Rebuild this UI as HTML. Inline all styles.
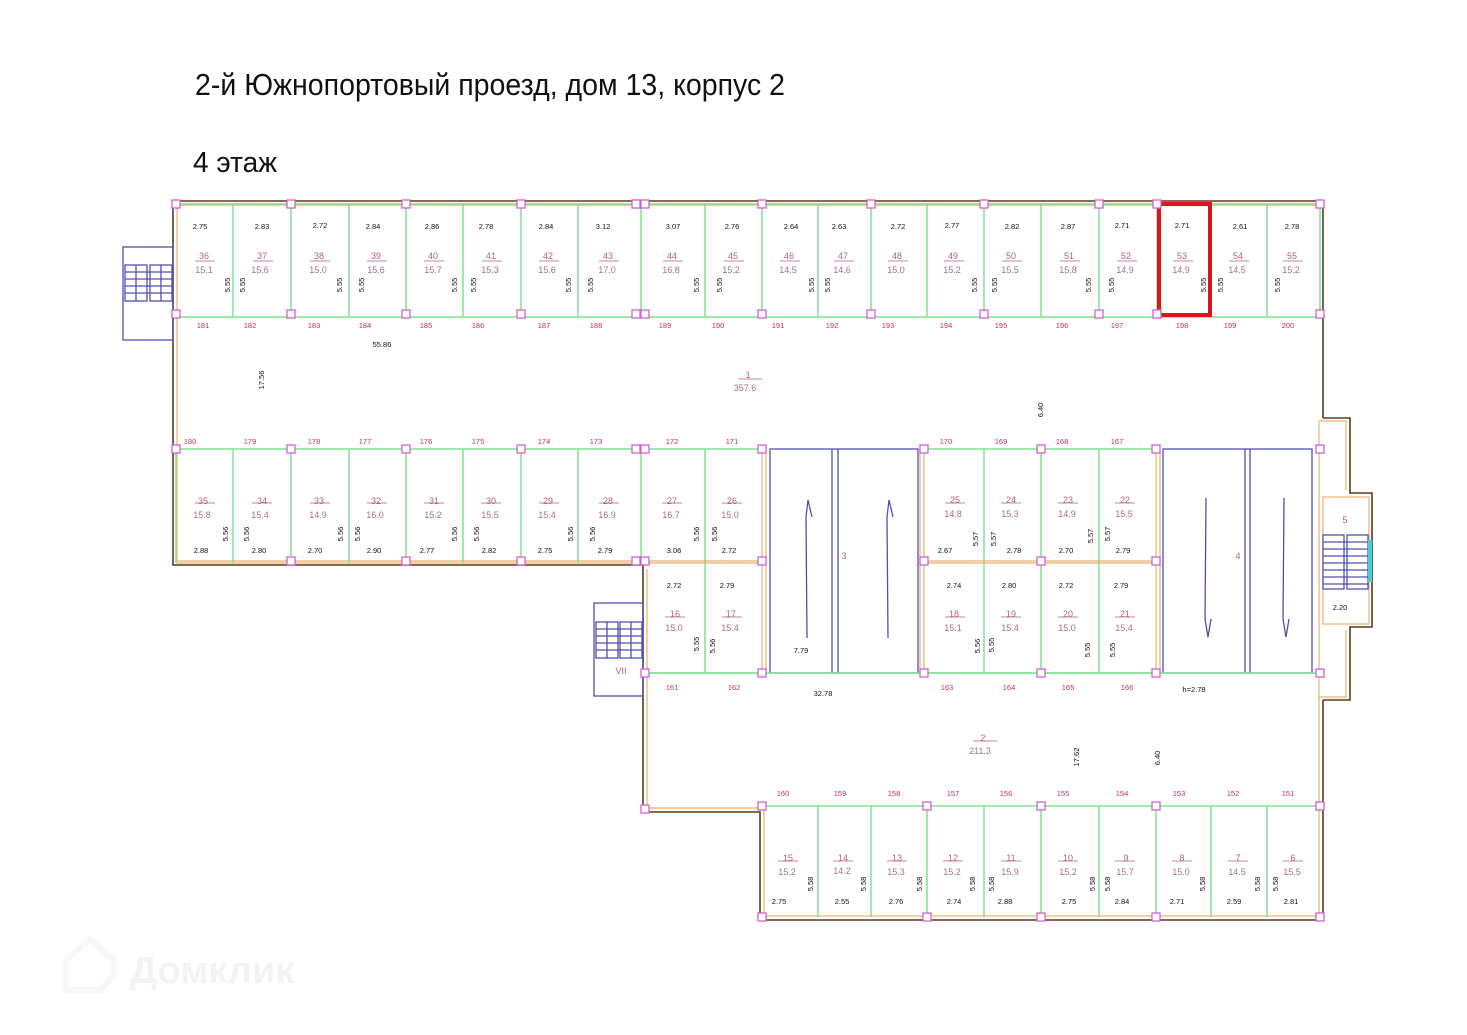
<!DOCTYPE html>
<html><head><meta charset="utf-8"><style>
html,body{margin:0;padding:0;background:#fff;}
svg{display:block;font-family:"Liberation Sans",sans-serif;}
.d{font-size:7.5px;fill:#111;text-anchor:middle;}
.n{font-size:9px;fill:#b06080;text-anchor:middle;}
.a{font-size:9px;fill:#a07090;text-anchor:middle;}
.c{font-size:7.5px;fill:#c03060;text-anchor:middle;}
.v{font-size:7.5px;fill:#111;text-anchor:middle;}
.g{stroke:#80e090;stroke-width:1.5;fill:none;}
.o{stroke:#e8b070;stroke-width:1.2;fill:none;}
.w{stroke:#5a3a20;stroke-width:1.6;fill:none;}
.b{stroke:#5050b0;stroke-width:1.3;fill:none;}
.p{stroke:#d060d0;stroke-width:1.3;fill:#fff;}
.u{stroke:#b06080;stroke-width:.8;}
</style></head><body>
<svg width="1467" height="1035" viewBox="0 0 1467 1035" xmlns="http://www.w3.org/2000/svg">
<text x="195" y="95" font-size="31" fill="#111" textLength="590" lengthAdjust="spacingAndGlyphs">2-й Южнопортовый проезд, дом 13, корпус 2</text>
<text x="193" y="172" font-size="29" fill="#111" textLength="84" lengthAdjust="spacingAndGlyphs">4 этаж</text>

<!-- watermark -->
<g opacity="0.6" fill="none" stroke="#f2f2f2" stroke-width="6">
<path d="M66 990 L66 960 L90 940 L114 960 L114 975 L100 990 Z"/>
</g>
<text x="130" y="983" font-size="38" font-weight="bold" fill="#f3f3f3">Домклик</text>

<!-- outer walls -->
<path class="w" d="M173 201 L1323 201 L1323 418"/>
<path class="w" d="M173 201 L173 565 L643 565 L643 812 L760 812 L760 920 L1323 920 L1323 700"/>
<path class="o" d="M177 205 L1319 205 M177 205 L177 561 L640 561"/>
<path class="o" d="M647 569 L647 808 L764 808 L764 916 L1319 916 L1319 700"/>
<!-- right protrusion & stair -->
<path class="w" d="M1323 418 L1350 418 L1350 493 L1372 493 L1372 627 L1350 627 L1350 700 L1323 700"/>
<path class="o" d="M1319 421 L1346 421 L1346 490 M1319 421 L1319 700 M1346 630 L1346 697 L1319 697"/>
<rect x="1323" y="497" width="46" height="127" class="o"/>
<rect x="1323" y="535" width="21" height="54" class="b"/>
<rect x="1347" y="535" width="21" height="54" class="b"/>
<rect x="1368" y="540" width="4" height="42" fill="#40d0d0"/>
<g class="b" stroke-width=".7">
<path d="M1323 542h45M1323 549h45M1323 556h45M1323 563h45M1323 570h45M1323 577h45M1323 584h45"/>
</g>
<text x="1345" y="523" class="n">5</text>
<text x="1340" y="610" class="d">2.20</text>

<!-- left stair -->
<rect x="123" y="247" width="50" height="93" class="b"/>
<rect x="125" y="265" width="22" height="36" class="b"/>
<rect x="150" y="265" width="22" height="36" class="b"/>
<g class="b" stroke-width=".7"><path d="M125 272h47M125 279h47M125 286h47M125 293h47M136 265v36M161 265v36"/></g>
<!-- stair VII -->
<rect x="594" y="603" width="49" height="93" class="b"/>
<rect x="596" y="622" width="22" height="36" class="b"/>
<rect x="620" y="622" width="22" height="36" class="b"/>
<g class="b" stroke-width=".7"><path d="M596 629h46M596 636h46M596 643h46M596 650h46M607 622v36M631 622v36"/></g>
<text x="621" y="674" class="n">VII</text>

<!-- top row rooms -->
<path class="g" d="M176 317 L1320 317 M176 204 L1320 204"/>
<path class="g" d="M233 204V317M291 204V317M349 204V317M406 204V317M463 204V317M521 204V317M578 204V317M641 204V317M705 204V317M762 204V317M818 204V317M871 204V317M927 204V317M984 204V317M1041 204V317M1099 204V317M1157 204V317M1211 204V317M1267 204V317M1320 204V317"/>
<!-- middle rows -->
<path class="g" d="M176 449 L762 449 M920 449 L1156 449 M643 673 L762 673 M920 673 L1156 673 M643 812 L643 812"/>
<path class="g" d="M233 449V563M291 449V563M349 449V563M406 449V563M463 449V563M521 449V563M578 449V563M641 449V563M705 449V673M984 449V673M1041 449V673M1099 449V673"/>
<path class="o" d="M176 563 L762 563 M643 561 L762 561 M920 563 L1156 563 M920 561 L1156 561"/>
<path class="o" d="M762 449V673M766 449V673M920 449V673M924 449V673M1156 449V673M1160 449V673"/>
<!-- elevators -->
<rect x="770" y="449" width="148" height="224" class="b"/>
<path class="b" d="M832 449V673M838 449V673"/>
<rect x="1163" y="449" width="149" height="224" class="b"/>
<path class="b" d="M1245 449V673M1250 449V673"/>
<path class="b" d="M807 638 L806 517 L808 500 L812 517"/>
<path class="b" d="M888 638 L887 517 L889 500 L893 517"/>
<path class="b" d="M1206 498 L1205 619 L1208 637 L1211 619"/>
<path class="b" d="M1284 498 L1283 619 L1286 637 L1289 619"/>
<text x="844" y="559" class="n">3</text>
<text x="1238" y="559" class="n">4</text>
<text x="801" y="653" class="d">7.79</text>
<text x="1194" y="692" class="d" fill="#303090">h=2.78</text>
<!-- bottom row -->
<path class="g" d="M762 806 L1320 806 M818 806V917M871 806V917M927 806V917M984 806V917M1041 806V917M1099 806V917M1156 806V917M1211 806V917M1267 806V917"/>
<path class="g" d="M643 673 L1320 673"/>
<path class="g" d="M176 449 L176 563"/>

<!-- highlighted -->
<rect x="1159" y="204" width="51" height="111" fill="none" stroke="#e0141e" stroke-width="4"/>

<!-- pink columns -->
<g class="p">
<rect x="172" y="200" width="8" height="8"/><rect x="287" y="200" width="8" height="8"/><rect x="402" y="200" width="8" height="8"/><rect x="517" y="200" width="8" height="8"/><rect x="632" y="200" width="8" height="8"/><rect x="641" y="200" width="8" height="8"/><rect x="758" y="200" width="8" height="8"/><rect x="867" y="200" width="8" height="8"/><rect x="980" y="200" width="8" height="8"/><rect x="1095" y="200" width="8" height="8"/><rect x="1153" y="200" width="8" height="8"/><rect x="1316" y="200" width="8" height="8"/>
<rect x="172" y="310" width="8" height="8"/><rect x="287" y="310" width="8" height="8"/><rect x="402" y="310" width="8" height="8"/><rect x="517" y="310" width="8" height="8"/><rect x="632" y="310" width="8" height="8"/><rect x="641" y="310" width="8" height="8"/><rect x="758" y="310" width="8" height="8"/><rect x="867" y="310" width="8" height="8"/><rect x="980" y="310" width="8" height="8"/><rect x="1095" y="310" width="8" height="8"/><rect x="1153" y="310" width="8" height="8"/><rect x="1316" y="310" width="8" height="8"/>
<rect x="172" y="445" width="8" height="8"/><rect x="287" y="445" width="8" height="8"/><rect x="402" y="445" width="8" height="8"/><rect x="517" y="445" width="8" height="8"/><rect x="632" y="445" width="8" height="8"/><rect x="641" y="445" width="8" height="8"/><rect x="758" y="445" width="8" height="8"/><rect x="920" y="445" width="8" height="8"/><rect x="1037" y="445" width="8" height="8"/><rect x="1152" y="445" width="8" height="8"/><rect x="1316" y="445" width="8" height="8"/>
<rect x="287" y="557" width="8" height="8"/><rect x="402" y="557" width="8" height="8"/><rect x="517" y="557" width="8" height="8"/><rect x="632" y="557" width="8" height="8"/><rect x="641" y="557" width="8" height="8"/><rect x="758" y="557" width="8" height="8"/><rect x="920" y="557" width="8" height="8"/><rect x="1037" y="557" width="8" height="8"/><rect x="1152" y="557" width="8" height="8"/>
<rect x="641" y="669" width="8" height="8"/><rect x="758" y="669" width="8" height="8"/><rect x="920" y="669" width="8" height="8"/><rect x="1037" y="669" width="8" height="8"/><rect x="1152" y="669" width="8" height="8"/><rect x="1316" y="669" width="8" height="8"/>
<rect x="641" y="805" width="8" height="8"/><rect x="758" y="802" width="8" height="8"/><rect x="923" y="802" width="8" height="8"/><rect x="1037" y="802" width="8" height="8"/><rect x="1152" y="802" width="8" height="8"/><rect x="1316" y="802" width="8" height="8"/>
<rect x="758" y="913" width="8" height="8"/><rect x="923" y="913" width="8" height="8"/><rect x="1037" y="913" width="8" height="8"/><rect x="1152" y="913" width="8" height="8"/><rect x="1316" y="913" width="8" height="8"/>
</g>

<!-- top room labels -->
<g>
<text x="200" y="229" class="d">2.75</text><text x="262" y="229" class="d">2.83</text><text x="320" y="228" class="d">2.72</text><text x="373" y="229" class="d">2.84</text><text x="432" y="229" class="d">2.86</text><text x="486" y="229" class="d">2.78</text><text x="546" y="229" class="d">2.84</text><text x="603" y="229" class="d">3.12</text><text x="673" y="229" class="d">3.07</text><text x="732" y="229" class="d">2.76</text><text x="791" y="229" class="d">2.64</text><text x="839" y="229" class="d">2.63</text><text x="898" y="229" class="d">2.72</text><text x="952" y="228" class="d">2.77</text><text x="1012" y="229" class="d">2.82</text><text x="1068" y="229" class="d">2.87</text><text x="1122" y="228" class="d">2.71</text><text x="1182" y="228" class="d">2.71</text><text x="1240" y="229" class="d">2.61</text><text x="1292" y="229" class="d">2.78</text>
</g>
<g>
<text x="204" y="259" class="n">36</text><text x="262" y="259" class="n">37</text><text x="319" y="259" class="n">38</text><text x="376" y="259" class="n">39</text><text x="433" y="259" class="n">40</text><text x="491" y="259" class="n">41</text><text x="548" y="259" class="n">42</text><text x="608" y="259" class="n">43</text><text x="672" y="259" class="n">44</text><text x="733" y="259" class="n">45</text><text x="789" y="259" class="n">46</text><text x="843" y="259" class="n">47</text><text x="897" y="259" class="n">48</text><text x="953" y="259" class="n">49</text><text x="1011" y="259" class="n">50</text><text x="1069" y="259" class="n">51</text><text x="1126" y="259" class="n">52</text><text x="1182" y="259" class="n">53</text><text x="1238" y="259" class="n">54</text><text x="1292" y="259" class="n">55</text>
<text x="204" y="273" class="a">15.1</text><text x="260" y="273" class="a">15.6</text><text x="318" y="273" class="a">15.0</text><text x="376" y="273" class="a">15.6</text><text x="433" y="273" class="a">15.7</text><text x="490" y="273" class="a">15.3</text><text x="547" y="273" class="a">15.6</text><text x="607" y="273" class="a">17.0</text><text x="671" y="273" class="a">16.8</text><text x="731" y="273" class="a">15.2</text><text x="788" y="273" class="a">14.5</text><text x="842" y="273" class="a">14.6</text><text x="896" y="273" class="a">15.0</text><text x="952" y="273" class="a">15.2</text><text x="1010" y="273" class="a">15.5</text><text x="1068" y="273" class="a">15.8</text><text x="1125" y="273" class="a">14.9</text><text x="1181" y="273" class="a">14.9</text><text x="1237" y="273" class="a">14.5</text><text x="1291" y="273" class="a">15.2</text>
</g>
<g class="u"><path d="M195 261h20M253 261h20M310 261h20M367 261h20M424 261h20M482 261h20M539 261h20M599 261h20M663 261h20M724 261h20M780 261h20M834 261h20M888 261h20M944 261h20M1002 261h20M1060 261h20M1117 261h20M1173 261h20M1229 261h20M1283 261h20"/>
<path d="M195 503h20M252 503h20M310 503h20M367 503h20M424 503h20M481 503h20M539 503h20M599 503h20M662 503h20M722 503h20M945 503h20M1001 503h20M1058 503h20M1115 503h20M665 617h20M722 617h20M945 617h20M1001 617h20M1058 617h20M1115 617h20"/>
<path d="M778 861h20M833 861h20M887 861h20M943 861h20M1001 861h20M1058 861h20M1115 861h20M1172 861h20M1228 861h20M1283 861h20M738 379h24M973 741h24"/></g>

<!-- vertical 5.55 -->
<g class="v">
<text transform="translate(230,285) rotate(-90)">5.55</text><text transform="translate(245,285) rotate(-90)">5.55</text><text transform="translate(342,285) rotate(-90)">5.55</text><text transform="translate(364,285) rotate(-90)">5.55</text><text transform="translate(457,285) rotate(-90)">5.55</text><text transform="translate(476,285) rotate(-90)">5.55</text><text transform="translate(571,285) rotate(-90)">5.55</text><text transform="translate(593,285) rotate(-90)">5.55</text><text transform="translate(699,285) rotate(-90)">5.55</text><text transform="translate(722,285) rotate(-90)">5.55</text><text transform="translate(814,285) rotate(-90)">5.55</text><text transform="translate(830,285) rotate(-90)">5.55</text><text transform="translate(977,285) rotate(-90)">5.55</text><text transform="translate(997,285) rotate(-90)">5.55</text><text transform="translate(1091,285) rotate(-90)">5.55</text><text transform="translate(1114,285) rotate(-90)">5.55</text><text transform="translate(1206,285) rotate(-90)">5.55</text><text transform="translate(1223,285) rotate(-90)">5.55</text><text transform="translate(1280,285) rotate(-90)">5.55</text>
<text transform="translate(228,534) rotate(-90)">5.56</text><text transform="translate(249,534) rotate(-90)">5.56</text><text transform="translate(343,534) rotate(-90)">5.56</text><text transform="translate(360,534) rotate(-90)">5.56</text><text transform="translate(457,534) rotate(-90)">5.56</text><text transform="translate(479,534) rotate(-90)">5.56</text><text transform="translate(573,534) rotate(-90)">5.56</text><text transform="translate(595,534) rotate(-90)">5.56</text><text transform="translate(699,534) rotate(-90)">5.56</text><text transform="translate(717,534) rotate(-90)">5.56</text>
<text transform="translate(978,539) rotate(-90)">5.57</text><text transform="translate(996,539) rotate(-90)">5.57</text><text transform="translate(1093,536) rotate(-90)">5.57</text><text transform="translate(1110,534) rotate(-90)">5.57</text>
<text transform="translate(699,644) rotate(-90)">5.55</text><text transform="translate(715,646) rotate(-90)">5.56</text><text transform="translate(980,646) rotate(-90)">5.56</text><text transform="translate(994,645) rotate(-90)">5.55</text><text transform="translate(1090,650) rotate(-90)">5.55</text><text transform="translate(1115,650) rotate(-90)">5.55</text>
<text transform="translate(813,884) rotate(-90)">5.58</text><text transform="translate(866,884) rotate(-90)">5.58</text><text transform="translate(922,884) rotate(-90)">5.58</text><text transform="translate(975,884) rotate(-90)">5.58</text><text transform="translate(994,884) rotate(-90)">5.58</text><text transform="translate(1095,884) rotate(-90)">5.58</text><text transform="translate(1110,884) rotate(-90)">5.58</text><text transform="translate(1205,884) rotate(-90)">5.58</text><text transform="translate(1260,884) rotate(-90)">5.58</text><text transform="translate(1278,884) rotate(-90)">5.58</text>
<text transform="translate(264,380) rotate(-90)">17.56</text><text transform="translate(1043,410) rotate(-90)">6.40</text><text transform="translate(1079,757) rotate(-90)">17.62</text><text transform="translate(1160,758) rotate(-90)">6.40</text>
</g>

<!-- bottom row of top block labels -->
<g>
<text x="203" y="504" class="n">35</text><text x="262" y="504" class="n">34</text><text x="319" y="504" class="n">33</text><text x="376" y="504" class="n">32</text><text x="434" y="504" class="n">31</text><text x="491" y="504" class="n">30</text><text x="548" y="504" class="n">29</text><text x="608" y="504" class="n">28</text><text x="672" y="504" class="n">27</text><text x="732" y="504" class="n">26</text><text x="955" y="503" class="n">25</text><text x="1011" y="503" class="n">24</text><text x="1068" y="503" class="n">23</text><text x="1125" y="503" class="n">22</text>
<text x="202" y="518" class="a">15.8</text><text x="260" y="518" class="a">15.4</text><text x="318" y="518" class="a">14.9</text><text x="375" y="518" class="a">16.0</text><text x="433" y="518" class="a">15.2</text><text x="490" y="518" class="a">15.5</text><text x="547" y="518" class="a">15.4</text><text x="607" y="518" class="a">16.9</text><text x="671" y="518" class="a">16.7</text><text x="730" y="518" class="a">15.0</text><text x="953" y="517" class="a">14.8</text><text x="1010" y="517" class="a">15.3</text><text x="1067" y="517" class="a">14.9</text><text x="1124" y="517" class="a">15.5</text>
<text x="201" y="553" class="d">2.88</text><text x="259" y="553" class="d">2.80</text><text x="315" y="553" class="d">2.70</text><text x="374" y="553" class="d">2.90</text><text x="427" y="553" class="d">2.77</text><text x="489" y="553" class="d">2.82</text><text x="545" y="553" class="d">2.75</text><text x="605" y="553" class="d">2.79</text><text x="674" y="553" class="d">3.06</text><text x="729" y="553" class="d">2.72</text><text x="945" y="553" class="d">2.67</text><text x="1014" y="553" class="d">2.78</text><text x="1066" y="553" class="d">2.70</text><text x="1123" y="553" class="d">2.79</text>
<text x="674" y="588" class="d">2.72</text><text x="727" y="588" class="d">2.79</text><text x="954" y="588" class="d">2.74</text><text x="1009" y="588" class="d">2.80</text><text x="1066" y="588" class="d">2.72</text><text x="1121" y="588" class="d">2.79</text>
<text x="675" y="617" class="n">16</text><text x="731" y="617" class="n">17</text><text x="954" y="617" class="n">18</text><text x="1011" y="617" class="n">19</text><text x="1068" y="617" class="n">20</text><text x="1125" y="617" class="n">21</text>
<text x="674" y="631" class="a">15.0</text><text x="730" y="631" class="a">15.4</text><text x="953" y="631" class="a">15.1</text><text x="1010" y="631" class="a">15.4</text><text x="1067" y="631" class="a">15.0</text><text x="1124" y="631" class="a">15.4</text>
</g>
<!-- bottom rooms -->
<g>
<text x="788" y="861" class="n">15</text><text x="843" y="861" class="n">14</text><text x="897" y="861" class="n">13</text><text x="953" y="861" class="n">12</text><text x="1011" y="861" class="n">11</text><text x="1068" y="861" class="n">10</text><text x="1126" y="861" class="n">9</text><text x="1182" y="861" class="n">8</text><text x="1238" y="861" class="n">7</text><text x="1293" y="861" class="n">6</text>
<text x="787" y="875" class="a">15.2</text><text x="842" y="874" class="a">14.2</text><text x="896" y="875" class="a">15.3</text><text x="952" y="875" class="a">15.2</text><text x="1010" y="875" class="a">15.9</text><text x="1068" y="875" class="a">15.2</text><text x="1125" y="875" class="a">15.7</text><text x="1181" y="875" class="a">15.0</text><text x="1237" y="875" class="a">14.5</text><text x="1292" y="875" class="a">15.5</text>
<text x="779" y="904" class="d">2.75</text><text x="842" y="904" class="d">2.55</text><text x="896" y="904" class="d">2.76</text><text x="954" y="904" class="d">2.74</text><text x="1005" y="904" class="d">2.88</text><text x="1069" y="904" class="d">2.75</text><text x="1122" y="904" class="d">2.84</text><text x="1177" y="904" class="d">2.71</text><text x="1234" y="904" class="d">2.59</text><text x="1291" y="904" class="d">2.81</text>
</g>
<!-- corridor numbers -->
<g class="c">
<text x="203" y="328">181</text><text x="250" y="328">182</text><text x="314" y="328">183</text><text x="365" y="328">184</text><text x="426" y="328">185</text><text x="478" y="328">186</text><text x="544" y="328">187</text><text x="596" y="328">188</text><text x="665" y="328">189</text><text x="718" y="328">190</text><text x="778" y="328">191</text><text x="832" y="328">192</text><text x="888" y="328">193</text><text x="946" y="328">194</text><text x="1001" y="328">195</text><text x="1062" y="328">196</text><text x="1117" y="328">197</text><text x="1182" y="328">198</text><text x="1230" y="328">199</text><text x="1288" y="328">200</text>
<text x="190" y="444">180</text><text x="250" y="444">179</text><text x="314" y="444">178</text><text x="365" y="444">177</text><text x="426" y="444">176</text><text x="478" y="444">175</text><text x="544" y="444">174</text><text x="596" y="444">173</text><text x="672" y="444">172</text><text x="732" y="444">171</text><text x="946" y="444">170</text><text x="1001" y="444">169</text><text x="1062" y="444">168</text><text x="1117" y="444">167</text>
<text x="672" y="690">161</text><text x="734" y="690">162</text><text x="947" y="690">163</text><text x="1009" y="690">164</text><text x="1068" y="690">165</text><text x="1127" y="690">166</text>
<text x="783" y="796">160</text><text x="840" y="796">159</text><text x="894" y="796">158</text><text x="953" y="796">157</text><text x="1006" y="796">156</text><text x="1063" y="796">155</text><text x="1122" y="796">154</text><text x="1179" y="796">153</text><text x="1233" y="796">152</text><text x="1288" y="796">151</text>
</g>
<text x="382" y="347" class="d">55.86</text>
<text x="748" y="378" class="n">1</text><text x="745" y="391" class="a">357.6</text>
<text x="823" y="696" class="d">32.78</text>
<text x="983" y="741" class="n">2</text><text x="980" y="754" class="a">211.3</text>
</svg>
</body></html>
